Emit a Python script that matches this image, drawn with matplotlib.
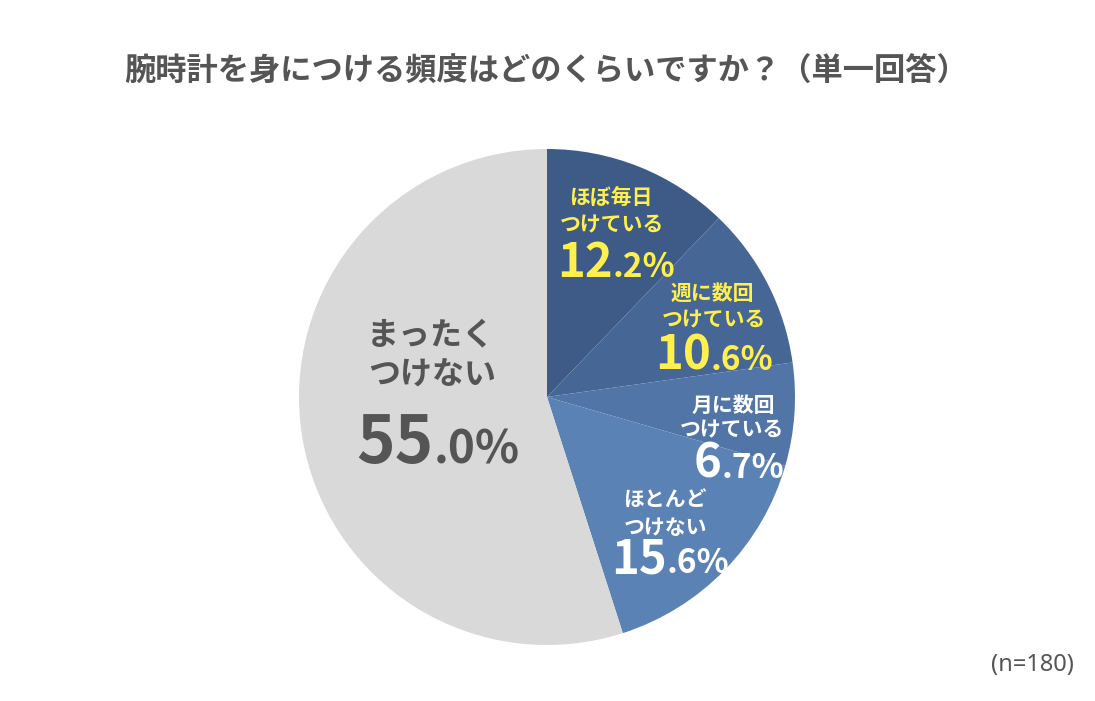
import matplotlib
matplotlib.use("Agg")
import matplotlib.pyplot as plt

plt.rcParams['font.family'] = ['Noto Sans CJK JP', 'DejaVu Sans']

W, H = 1095, 701

title = "腕時計を身につける頻度はどのくらいですか？（単一回答）"
categories = ["ほぼ毎日\nつけている", "週に数回\nつけている", "月に数回\nつけている",
              "ほとんど\nつけない", "まったく\nつけない"]
values = [12.2, 10.6, 6.7, 15.6, 55.0]
colors = ["#3e5b88", "#466796", "#5075a6", "#5b82b5", "#d9d9d9"]
text_colors = ["#fff04d", "#fff04d", "#ffffff", "#ffffff", "#555555"]
n_note = "(n=180)"

fig = plt.figure(figsize=(W / 100, H / 100), dpi=100)

# pie centre (547, 397) px, radius 248 px
cx, cy, r = 547, 397, 248
ax = fig.add_axes([(cx - r) / W, (H - cy - r) / H, 2 * r / W, 2 * r / H])
ax.pie(values, colors=colors, startangle=90, counterclock=False, radius=1,
       wedgeprops=dict(linewidth=0))
ax.set_xlim(-1, 1)
ax.set_ylim(-1, 1)
ax.set_aspect('auto')
ax.axis('off')


def put(x, y, s, **kw):
    fig.text(x / W, 1 - y / H, s, **kw)


put(546, 72, title, ha='center', va='center', fontsize=22.5,
    fontweight='bold', color='#555555')

# label layout: (line1 xy, line2 xy, split x, baseline y, sizes)
label_pos = [
    ((611, 198), (612, 225), 613, 277, 15, 34, 24),
    ((712, 293), (714, 320), 711, 370, 15, 34, 24),
    ((733, 405), (732, 430), 722, 478, 15, 34, 24),
    ((665, 500), (666, 527), 667, 573, 15, 34, 24),
    ((431, 335), (432, 375), 434, 463, 23, 47, 33),
]

for cat, val, tc, pos in zip(categories, values, text_colors, label_pos):
    (x1, y1), (x2, y2), sx, by, fs, big, small = pos
    l1, l2 = cat.split("\n")
    put(x1, y1, l1, ha='center', va='center', fontsize=fs,
        fontweight='bold', color=tc)
    put(x2, y2, l2, ha='center', va='center', fontsize=fs,
        fontweight='bold', color=tc)
    whole, dec = f"{val:.1f}".split(".")
    put(sx, by, whole, ha='right', va='baseline', fontsize=big,
        fontweight='bold', color=tc)
    put(sx, by, "." + dec + "%", ha='left', va='baseline', fontsize=small,
        fontweight='bold', color=tc)

put(1074, 665, n_note, ha='right', va='center', fontsize=17,
    color='#555555', family=['Noto Sans', 'DejaVu Sans'])

fig.savefig("out.png", dpi=100)
